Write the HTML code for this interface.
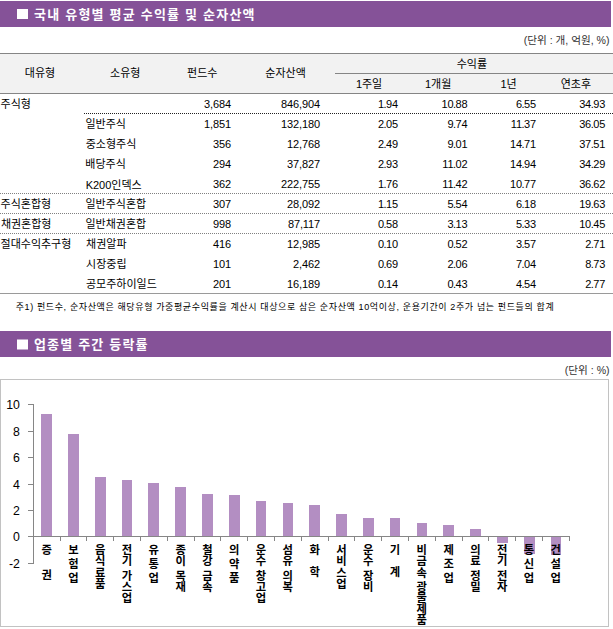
<!DOCTYPE html>
<html lang="ko">
<head>
<meta charset="utf-8">
<title>국내 유형별 평균 수익률 및 순자산액</title>
<style>
html,body{margin:0;padding:0;background:#fff;}
body{width:613px;height:629px;overflow:hidden;position:relative;font-family:"Liberation Sans","Noto Sans CJK KR",sans-serif;color:#000;}
#page{position:absolute;left:0;top:0;width:613px;height:629px;overflow:hidden;background:#fff;}
.bar{position:absolute;left:0;width:611px;height:25.8px;background:#855298;}
.ln{position:absolute;left:0;width:613px;height:1px;}
#art{position:absolute;left:0;top:0;width:613px;height:629px;}
#art text{font-family:"Liberation Sans","Noto Sans CJK KR",sans-serif;}
.n{position:absolute;width:80px;height:12px;line-height:12px;font-size:11px;letter-spacing:-0.12px;text-align:right;white-space:nowrap;color:#000;}
.n i{font-style:normal;margin:0 -0.45px;}
.y{position:absolute;left:0;width:19.9px;height:14px;line-height:14px;font-size:12.3px;text-align:right;white-space:nowrap;color:#000;}
</style>
</head>
<body>
<div id="page">
<div class="bar" style="top:1px"></div>
<div class="bar" style="top:331px"></div>
<div style="position:absolute;left:0;top:54px;width:613px;height:39px;background:#f2f2f2"></div>
<div class="ln" style="top:53px;background:#858585"></div>
<div class="ln" style="top:93px;background:#858585"></div>
<div class="ln" style="top:73px;left:335px;width:278px;background:#858585"></div>
<div class="ln" style="top:293px;background:#9a9a9a"></div>
<svg id="art" width="613" height="629" viewBox="0 0 613 629">
<rect x="17" y="9" width="11" height="10" fill="#fff"/>
<rect x="17" y="339.5" width="11" height="10" fill="#fff"/>
<path d="M84 113.5H613" stroke="#222" stroke-width="1" stroke-dasharray="1 1" fill="none"/>
<path d="M0 193.5H613M0 213.5H613M0 233.5H613" stroke="#808080" stroke-width="1" stroke-dasharray="1 1" fill="none"/>
<rect x="0.5" y="379.5" width="608" height="247" fill="#fff" stroke="#c2c2c2" stroke-width="1" shape-rendering="crispEdges"/>
<path d="M41 414H52V536H41ZM68 434H79V536H68ZM95 477H106V536H95ZM122 480H132V536H122ZM148 483H159V536H148ZM175 487H186V536H175ZM202 494H213V536H202ZM229 495H240V536H229ZM256 501H266V536H256ZM283 503H293V536H283ZM309 505H320V536H309ZM336 514H347V536H336ZM363 518H374V536H363ZM390 518H400V536H390ZM417 523H427V536H417ZM443 525H454V536H443ZM470 529H481V536H470ZM497 537H508V543H497ZM524 537H535V554H524ZM551 537H561V555H551Z" fill="#b38ec2" shape-rendering="crispEdges"/>
<path d="M33.5 404V564M28 404.5H34M28 431.5H34M28 457.5H34M28 484.5H34M28 510.5H34M28 536.5H34M28 563.5H34M33 536.5H570M33.5 536V541M60.5 536V541M86.5 536V541M113.5 536V541M140.5 536V541M167.5 536V541M194.5 536V541M220.5 536V541M247.5 536V541M274.5 536V541M301.5 536V541M328.5 536V541M354.5 536V541M381.5 536V541M408.5 536V541M435.5 536V541M462.5 536V541M488.5 536V541M515.5 536V541M542.5 536V541M569.5 536V541" fill="none" stroke="#868686" stroke-width="1" shape-rendering="crispEdges"/>
<g fill="#fff" font-size="13" font-weight="bold">
<text x="34.11" y="18.6" textLength="220.4" lengthAdjust="spacing">국내 유형별 평균 수익률 및 순자산액</text>
<text x="33.88" y="349.2" textLength="113.7" lengthAdjust="spacing">업종별 주간 등락률</text>
</g>
<g fill="#333" font-size="10.6" text-anchor="end">
<text x="609.5" y="44.4">(단위 : 개, 억원, %)</text>
<text x="609.6" y="374.2">(단위 : %)</text>
</g>
<g fill="#000" font-size="11">
<text x="24.78" y="77">대유형</text>
<text x="110.09" y="77">소유형</text>
<text x="187.08" y="77">펀드수</text>
<text x="265.36" y="77">순자산액</text>
<text x="456.7" y="67.5">수익률</text>
<text x="355.89" y="88.4">1주일</text>
<text x="424.97" y="88.4">1개월</text>
<text x="500.42" y="88.4">1년</text>
<text x="560.71" y="88.4">연초후</text>
<text x="0.55" y="108.2">주식형</text>
<text x="85.43" y="128.4">일반주식</text>
<text x="85.71" y="148.2">중소형주식</text>
<text x="85.35" y="168.3">배당주식</text>
<text x="85.64" y="188.5">K200인덱스</text>
<text x="0.55" y="208.1">주식혼합형</text>
<text x="85.43" y="208.1">일반주식혼합</text>
<text x="0.88" y="228.2">채권혼합형</text>
<text x="85.43" y="228.2">일반채권혼합</text>
<text x="0.53" y="248.2">절대수익추구형</text>
<text x="86.08" y="248.2">채권알파</text>
<text x="86.09" y="268.3">시장중립</text>
<text x="85.91" y="288.3">공모주하이일드</text>
</g>
<text x="15.68" y="309.6" fill="#000" font-size="9" textLength="538" lengthAdjust="spacing">주1) 펀드수, 순자산액은 해당유형 가중평균수익률을 계산시 대상으로 삼은 순자산액 10억이상, 운용기간이 2주가 넘는 펀드들의 합계</text>
<g fill="#000" font-size="11.3" font-weight="bold" text-anchor="middle">
<text><tspan x="46.6" y="554.15">증</tspan><tspan x="46.6" y="578.75">권</tspan></text>
<text><tspan x="73.4" y="554.15">보</tspan><tspan x="73.4" y="567.55">험</tspan><tspan x="73.4" y="581.75">업</tspan></text>
<text><tspan x="100.2" y="554.15">음</tspan><tspan x="100.2" y="565.35">식</tspan><tspan x="100.2" y="576.55">료</tspan><tspan x="100.2" y="587.75">품</tspan></text>
<text><tspan x="127" y="554.15">전</tspan><tspan x="127" y="565.35">기</tspan><tspan x="127" y="579.65">가</tspan><tspan x="127" y="590.85">스</tspan><tspan x="127" y="602.05">업</tspan></text>
<text><tspan x="153.8" y="554.15">유</tspan><tspan x="153.8" y="567.55">통</tspan><tspan x="153.8" y="581.75">업</tspan></text>
<text><tspan x="180.6" y="554.15">종</tspan><tspan x="180.6" y="565.35">이</tspan><tspan x="180.6" y="579.65">목</tspan><tspan x="180.6" y="590.85">재</tspan></text>
<text><tspan x="207.4" y="554.15">철</tspan><tspan x="207.4" y="565.35">강</tspan><tspan x="207.4" y="579.65">금</tspan><tspan x="207.4" y="590.85">속</tspan></text>
<text><tspan x="234.2" y="554.15">의</tspan><tspan x="234.2" y="567.55">약</tspan><tspan x="234.2" y="581.75">품</tspan></text>
<text><tspan x="261" y="554.15">운</tspan><tspan x="261" y="565.35">수</tspan><tspan x="261" y="579.65">창</tspan><tspan x="261" y="590.85">고</tspan><tspan x="261" y="602.05">업</tspan></text>
<text><tspan x="287.8" y="554.15">섬</tspan><tspan x="287.8" y="565.35">유</tspan><tspan x="287.8" y="579.65">의</tspan><tspan x="287.8" y="590.85">복</tspan></text>
<text><tspan x="314.6" y="554.15">화</tspan><tspan x="314.6" y="575.65">학</tspan></text>
<text><tspan x="341.4" y="554.15">서</tspan><tspan x="341.4" y="565.35">비</tspan><tspan x="341.4" y="576.55">스</tspan><tspan x="341.4" y="587.75">업</tspan></text>
<text><tspan x="368.2" y="554.15">운</tspan><tspan x="368.2" y="565.35">수</tspan><tspan x="368.2" y="579.65">장</tspan><tspan x="368.2" y="590.85">비</tspan></text>
<text><tspan x="395" y="554.15">기</tspan><tspan x="395" y="575.65">계</tspan></text>
<text><tspan x="421.8" y="554.15">비</tspan><tspan x="421.8" y="565.35">금</tspan><tspan x="421.8" y="576.55">속</tspan><tspan x="421.8" y="590.85">광</tspan><tspan x="421.8" y="602.05">물</tspan><tspan x="421.8" y="613.25">제</tspan><tspan x="421.8" y="624.45">품</tspan></text>
<text><tspan x="448.6" y="554.15">제</tspan><tspan x="448.6" y="567.55">조</tspan><tspan x="448.6" y="581.75">업</tspan></text>
<text><tspan x="475.4" y="554.15">의</tspan><tspan x="475.4" y="565.35">료</tspan><tspan x="475.4" y="579.65">정</tspan><tspan x="475.4" y="590.85">밀</tspan></text>
<text><tspan x="502.2" y="554.15">전</tspan><tspan x="502.2" y="565.35">기</tspan><tspan x="502.2" y="579.65">전</tspan><tspan x="502.2" y="590.85">자</tspan></text>
<text><tspan x="529" y="554.15">통</tspan><tspan x="529" y="567.55">신</tspan><tspan x="529" y="581.75">업</tspan></text>
<text><tspan x="555.8" y="554.15">건</tspan><tspan x="555.8" y="567.55">설</tspan><tspan x="555.8" y="581.75">업</tspan></text>
</g>
</svg>
<div class="n" style="left:151px;top:97.8px">3,684</div>
<div class="n" style="left:240px;top:97.8px">846,904</div>
<div class="n" style="left:318px;top:97.8px">1<i>.</i>94</div>
<div class="n" style="left:387.5px;top:97.8px">10<i>.</i>88</div>
<div class="n" style="left:456px;top:97.8px">6<i>.</i>55</div>
<div class="n" style="left:525.2px;top:97.8px">34<i>.</i>93</div>
<div class="n" style="left:151px;top:118px">1,851</div>
<div class="n" style="left:240px;top:118px">132,180</div>
<div class="n" style="left:318px;top:118px">2<i>.</i>05</div>
<div class="n" style="left:387.5px;top:118px">9<i>.</i>74</div>
<div class="n" style="left:456px;top:118px">11<i>.</i>37</div>
<div class="n" style="left:525.2px;top:118px">36<i>.</i>05</div>
<div class="n" style="left:151px;top:137.8px">356</div>
<div class="n" style="left:240px;top:137.8px">12,768</div>
<div class="n" style="left:318px;top:137.8px">2<i>.</i>49</div>
<div class="n" style="left:387.5px;top:137.8px">9<i>.</i>01</div>
<div class="n" style="left:456px;top:137.8px">14<i>.</i>71</div>
<div class="n" style="left:525.2px;top:137.8px">37<i>.</i>51</div>
<div class="n" style="left:151px;top:157.9px">294</div>
<div class="n" style="left:240px;top:157.9px">37,827</div>
<div class="n" style="left:318px;top:157.9px">2<i>.</i>93</div>
<div class="n" style="left:387.5px;top:157.9px">11<i>.</i>02</div>
<div class="n" style="left:456px;top:157.9px">14<i>.</i>94</div>
<div class="n" style="left:525.2px;top:157.9px">34<i>.</i>29</div>
<div class="n" style="left:151px;top:178.1px">362</div>
<div class="n" style="left:240px;top:178.1px">222,755</div>
<div class="n" style="left:318px;top:178.1px">1<i>.</i>76</div>
<div class="n" style="left:387.5px;top:178.1px">11<i>.</i>42</div>
<div class="n" style="left:456px;top:178.1px">10<i>.</i>77</div>
<div class="n" style="left:525.2px;top:178.1px">36<i>.</i>62</div>
<div class="n" style="left:151px;top:197.7px">307</div>
<div class="n" style="left:240px;top:197.7px">28,092</div>
<div class="n" style="left:318px;top:197.7px">1<i>.</i>15</div>
<div class="n" style="left:387.5px;top:197.7px">5<i>.</i>54</div>
<div class="n" style="left:456px;top:197.7px">6<i>.</i>18</div>
<div class="n" style="left:525.2px;top:197.7px">19<i>.</i>63</div>
<div class="n" style="left:151px;top:217.8px">998</div>
<div class="n" style="left:240px;top:217.8px">87,117</div>
<div class="n" style="left:318px;top:217.8px">0<i>.</i>58</div>
<div class="n" style="left:387.5px;top:217.8px">3<i>.</i>13</div>
<div class="n" style="left:456px;top:217.8px">5<i>.</i>33</div>
<div class="n" style="left:525.2px;top:217.8px">10<i>.</i>45</div>
<div class="n" style="left:151px;top:237.8px">416</div>
<div class="n" style="left:240px;top:237.8px">12,985</div>
<div class="n" style="left:318px;top:237.8px">0<i>.</i>10</div>
<div class="n" style="left:387.5px;top:237.8px">0<i>.</i>52</div>
<div class="n" style="left:456px;top:237.8px">3<i>.</i>57</div>
<div class="n" style="left:525.2px;top:237.8px">2<i>.</i>71</div>
<div class="n" style="left:151px;top:257.9px">101</div>
<div class="n" style="left:240px;top:257.9px">2,462</div>
<div class="n" style="left:318px;top:257.9px">0<i>.</i>69</div>
<div class="n" style="left:387.5px;top:257.9px">2<i>.</i>06</div>
<div class="n" style="left:456px;top:257.9px">7<i>.</i>04</div>
<div class="n" style="left:525.2px;top:257.9px">8<i>.</i>73</div>
<div class="n" style="left:151px;top:277.9px">201</div>
<div class="n" style="left:240px;top:277.9px">16,189</div>
<div class="n" style="left:318px;top:277.9px">0<i>.</i>14</div>
<div class="n" style="left:387.5px;top:277.9px">0<i>.</i>43</div>
<div class="n" style="left:456px;top:277.9px">4<i>.</i>54</div>
<div class="n" style="left:525.2px;top:277.9px">2<i>.</i>77</div>
<div class="y" style="top:398.4px">10</div>
<div class="y" style="top:425.4px">8</div>
<div class="y" style="top:451.4px">6</div>
<div class="y" style="top:478.4px">4</div>
<div class="y" style="top:504.4px">2</div>
<div class="y" style="top:530.4px">0</div>
<div class="y" style="top:557.4px">-2</div>
</div>
</body>
</html>
